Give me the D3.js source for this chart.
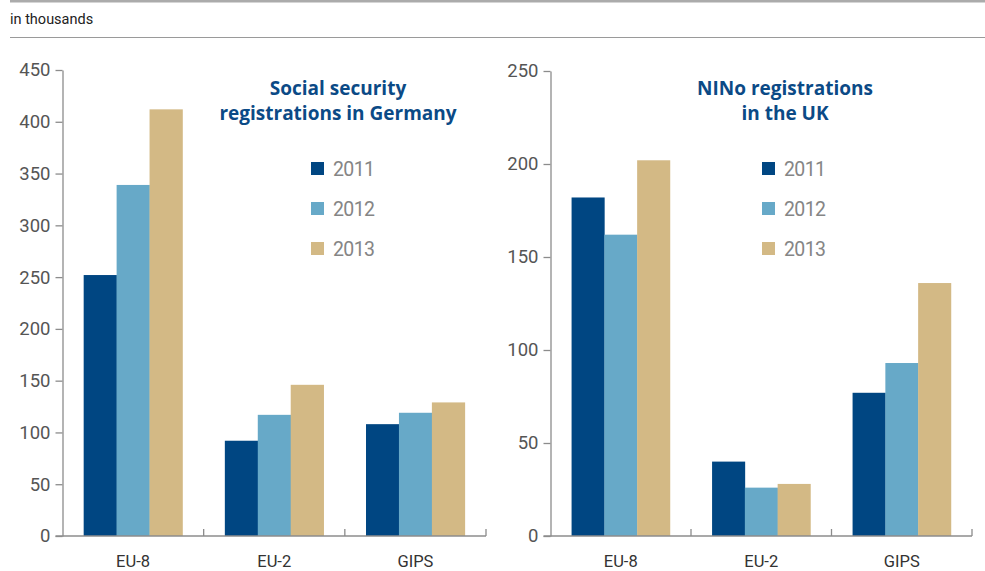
<!DOCTYPE html>
<html>
<head>
<meta charset="utf-8">
<script src="https://cdn.jsdelivr.net/npm/d3@7"></script>
<style>
  body { margin: 0; background: #fff; }
</style>
</head>
<body>
<div id="chart"></div>
<script>
// data
var categories = ["EU-8", "EU-2", "GIPS"];
var years = ["2011", "2012", "2013"];
var colors = ["#004682", "#67a9c8", "#d3b985"];

// Germany, social security registrations (thousands)
var germany2011 = [252, 92, 108];
var germany2012 = [339, 117, 119];
var germany2013 = [412, 146, 129];
var germanyTicks = [0, 50, 100, 150, 200, 250, 300, 350, 400, 450];

// UK, NINo registrations (thousands)
var uk2011 = [182, 40, 77];
var uk2012 = [162, 26, 93];
var uk2013 = [202, 28, 136];
var ukTicks = [0, 50, 100, 150, 200, 250];

var svgWidth = 985;
var svgHeight = 571;

var svg = d3.select("#chart")
  .append("svg")
  .attr("width", svgWidth)
  .attr("height", svgHeight)
  .style("font-family", "Roboto, sans-serif");

// header lines
svg.append("rect")
  .attr("x", 10).attr("y", 0)
  .attr("width", svgWidth - 10).attr("height", 2.5)
  .attr("fill", "#ababab");

svg.append("text")
  .attr("x", 10).attr("y", 24)
  .attr("font-size", 14.5)
  .attr("fill", "#222")
  .text("in thousands");

svg.append("line")
  .attr("x1", 10).attr("x2", svgWidth)
  .attr("y1", 37.5).attr("y2", 37.5)
  .attr("stroke", "#9a9a9a")
  .attr("stroke-width", 1.2);

// one panel
function drawPanel(opts) {
  var g = svg.append("g");

  var y = d3.scaleLinear()
    .domain([0, opts.max])
    .range([536, opts.top]);

  var x0 = d3.scaleBand()
    .domain(categories)
    .range([opts.left, opts.right])
    .paddingInner(0.3)
    .paddingOuter(0.15);

  var x1 = d3.scaleBand()
    .domain(years)
    .range([0, x0.bandwidth()]);

  var rows = categories.map(function(c, i) {
    return { cat: c, vals: opts.series.map(function(s) { return s[i]; }) };
  });

  // bars
  g.selectAll("g.grp")
    .data(rows)
    .enter()
    .append("g")
    .attr("class", "grp")
    .attr("transform", d => `translate(${x0(d.cat)},0)`)
    .selectAll("rect")
    .data(d => d.vals.map((v, j) => ({ year: years[j], v: v, c: colors[j] })))
    .enter()
    .append("rect")
    .attr("x", d => x1(d.year))
    .attr("y", d => y(d.v))
    .attr("width", x1.bandwidth() + 0.3)
    .attr("height", d => y(0) - y(d.v))
    .attr("fill", d => d.c);

  // y axis
  var leftAxis = d3.axisLeft(y)
    .tickValues(opts.ticks)
    .tickSize(7)
    .tickPadding(5)
    .tickSizeOuter(0);

  var ya = g.append("g")
    .attr("transform", `translate(${opts.left},0)`)
    .call(leftAxis);
  ya.select(".domain").attr("stroke", "#8c8c8c").attr("stroke-width", 1.3);
  ya.selectAll(".tick line").attr("stroke", "#8c8c8c").attr("stroke-width", 1.3);
  ya.selectAll(".tick text")
    .attr("font-size", 18.5)
    .attr("font-family", "Roboto, sans-serif")
    .attr("fill", "#555");

  // x axis line with upward boundary ticks
  g.append("line")
    .attr("x1", opts.left - 7).attr("x2", opts.right)
    .attr("y1", y(0)).attr("y2", y(0))
    .attr("stroke", "#8c8c8c").attr("stroke-width", 1.3);

  var step = x0.step();
  g.selectAll("line.bt")
    .data([1, 2, 3])
    .enter()
    .append("line")
    .attr("class", "bt")
    .attr("x1", d => opts.left + d * step)
    .attr("x2", d => opts.left + d * step)
    .attr("y1", y(0)).attr("y2", y(0) - 7)
    .attr("stroke", "#8c8c8c").attr("stroke-width", 1.3);

  g.selectAll("text.cat")
    .data(categories)
    .enter()
    .append("text")
    .attr("class", "cat")
    .attr("x", d => x0(d) + x0.bandwidth() / 2)
    .attr("y", 567)
    .attr("text-anchor", "middle")
    .attr("font-size", 16.5)
    .attr("fill", "#333")
    .text(d => d);

  // title
  g.selectAll("text.title")
    .data(opts.title)
    .enter()
    .append("text")
    .attr("class", "title")
    .attr("x", opts.titleX)
    .attr("y", (d, i) => 95 + i * 25)
    .attr("text-anchor", "middle")
    .style("font-family", "'Open Sans', sans-serif")
    .attr("font-weight", "bold")
    .attr("font-size", 19)
    .attr("fill", "#0b4a86")
    .text(d => d);

  // legend
  var lg = g.selectAll("g.leg")
    .data(years)
    .enter()
    .append("g")
    .attr("class", "leg")
    .attr("transform", (d, i) => `translate(${opts.legendX},${162 + i * 40})`);

  lg.append("rect")
    .attr("width", 13).attr("height", 13)
    .attr("fill", (d, i) => colors[i]);

  lg.append("text")
    .attr("x", 22).attr("y", 13.5)
    .attr("font-size", 19.5)
    .attr("letter-spacing", -0.6)
    .attr("fill", "#858585")
    .text(d => d);
}

drawPanel({
  left: 62.5, right: 486, top: 70, max: 450,
  ticks: germanyTicks,
  series: [germany2011, germany2012, germany2013],
  title: ["Social security", "registrations in Germany"],
  titleX: 338, legendX: 311
});

drawPanel({
  left: 550.5, right: 972, top: 71, max: 250,
  ticks: ukTicks,
  series: [uk2011, uk2012, uk2013],
  title: ["NINo registrations", "in the UK"],
  titleX: 785, legendX: 762
});
</script>
</body>
</html>
